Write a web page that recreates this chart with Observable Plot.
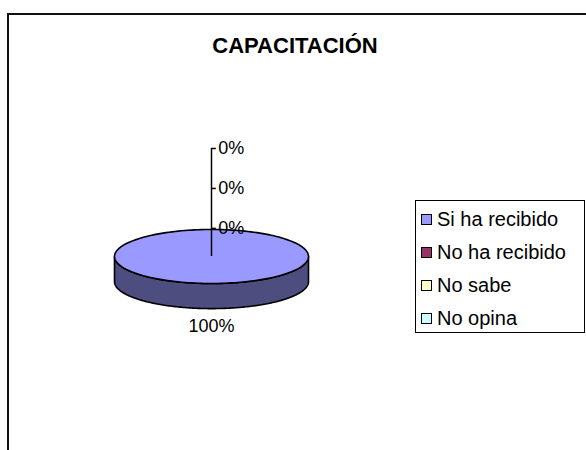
<!DOCTYPE html>
<html>
<head>
<meta charset="utf-8">
<script src="https://cdn.jsdelivr.net/npm/d3@7"></script>
<script src="https://cdn.jsdelivr.net/npm/@observablehq/plot@0.6"></script>
<style>
  html, body { margin: 0; padding: 0; background: #fff; }
  #wrap { position: relative; width: 586px; height: 450px; overflow: hidden; font-family: "Liberation Sans", Arial, sans-serif; }
  #frame { position: absolute; left: 7px; top: 13px; width: 700px; height: 600px; border: 2px solid #111; box-sizing: border-box; }
  #title { position: absolute; left: 0; width: 586px; top: 33px; text-align: center; font-weight: bold; font-size: 22px; color: #000; }
  #title span { position: relative; left: 2px; }
  #chart { position: absolute; left: 0; top: 0; }
  #legend { position: absolute; left: 415px; top: 200px; width: 170px; height: 133px; border: 1px solid #000; box-sizing: border-box; background: #fff; }
  .item { position: absolute; left: 5px; height: 24px; display: flex; align-items: center; font-size: 20px; color: #000; white-space: nowrap; }
  .sw { width: 9px; height: 9px; border: 1px solid #000; margin-right: 5px; flex: none; }
</style>
</head>
<body>
<div id="wrap">
  <div id="frame"></div>
  <div id="title"><span></span></div>
  <div id="chart"></div>
  <div id="legend"></div>
</div>
<script>
// ---- data ----
const title = "CAPACITACIÓN";
const categories = ["Si ha recibido", "No ha recibido", "No sabe", "No opina"];
const values = [100, 0, 0, 0];
const colors = ["#9999FF", "#993366", "#FFFFCC", "#CCFFFF"];
const sideColors = ["#4D4D80", "#4D1A33", "#808066", "#668080"];

document.querySelector("#title span").textContent = title;

// ---- geometry (pie units: radius 1, y down) ----
const depth = 0.93;           // thickness of the 3D pie in y-units
const total = d3.sum(values);
const arcs = d3.pie().sort(null).value(d => d)(values);

function pt(a, dy = 0) { return {x: Math.sin(a), y: -Math.cos(a) + dy}; }

const topPolys = [], sidePolys = [];
arcs.forEach((a, i) => {
  if (a.endAngle - a.startAngle <= 1e-9) return;
  const full = a.endAngle - a.startAngle >= 2 * Math.PI - 1e-9;
  const n = 180;
  const pts = [];
  if (!full) pts.push({x: 0, y: 0});
  for (let k = 0; k <= n; k++) pts.push(pt(a.startAngle + (a.endAngle - a.startAngle) * k / n));
  pts.forEach(p => { p.slice = i; });
  topPolys.push(...pts);
  // visible front side: angles between PI/2 and 3PI/2
  const s0 = Math.max(a.startAngle, Math.PI / 2), s1 = Math.min(a.endAngle, 3 * Math.PI / 2);
  if (s1 > s0) {
    const side = [];
    for (let k = 0; k <= n; k++) side.push(pt(s0 + (s1 - s0) * k / n));
    for (let k = n; k >= 0; k--) side.push(pt(s0 + (s1 - s0) * k / n, depth));
    side.forEach(p => { p.slice = i; });
    sidePolys.push(...side);
  }
});

// labels of zero-valued slices stack up along a leader line above the pie
const pctFmt = v => Math.round(v / total * 100) + "%";
const zeroLabels = values.map((v, i) => ({v, i})).filter(d => d.v === 0)
  .map((d, k) => ({label: pctFmt(d.v), y: -1.04 - 1.48 * k}));
const mainLabels = values.map((v, i) => ({v, i})).filter(d => d.v > 0)
  .map(d => ({label: pctFmt(d.v), x: 0, y: 2.58}));
const leaderTop = d3.min(zeroLabels, d => d.y);

const chart = Plot.plot({
  width: 586, height: 450,
  margin: 0,
  style: {background: "transparent", fontFamily: "'Liberation Sans', Arial, sans-serif"},
  x: {domain: [-1, 1], range: [114, 308], axis: null},
  y: {domain: [-1, 1], range: [229, 283], axis: null},
  marks: [
    Plot.line(sidePolys, {x: "x", y: "y", z: "slice", fill: d => sideColors[d.slice], stroke: "#000", strokeWidth: 1.6, curve: "linear-closed"}),
    Plot.line(topPolys, {x: "x", y: "y", z: "slice", fill: d => colors[d.slice], stroke: "#000", strokeWidth: 1.6, curve: "linear-closed"}),
    Plot.ruleX([0], {y1: 0, y2: leaderTop, stroke: "#000", strokeWidth: 1.5}),
    Plot.ruleY(zeroLabels, {y: "y", x1: 0, x2: 0.05, stroke: "#000", strokeWidth: 1.5}),
    Plot.text(zeroLabels, {x: 0.07, y: "y", text: "label", textAnchor: "start", fontSize: 18, fill: "#000"}),
    Plot.text(mainLabels, {x: "x", y: "y", text: "label", textAnchor: "middle", fontSize: 18, fill: "#000"})
  ]
});
chart.querySelectorAll("path").forEach(p => p.setAttribute("stroke-linejoin", "round"));
document.getElementById("chart").appendChild(chart);

// ---- legend ----
const legend = document.getElementById("legend");
categories.forEach((c, i) => {
  const it = document.createElement("div");
  it.className = "item";
  it.style.top = (6 + i * 33) + "px";
  const sw = document.createElement("div");
  sw.className = "sw";
  sw.style.background = colors[i];
  const tx = document.createElement("span");
  tx.textContent = c;
  it.appendChild(sw); it.appendChild(tx);
  legend.appendChild(it);
});
</script>
</body>
</html>
